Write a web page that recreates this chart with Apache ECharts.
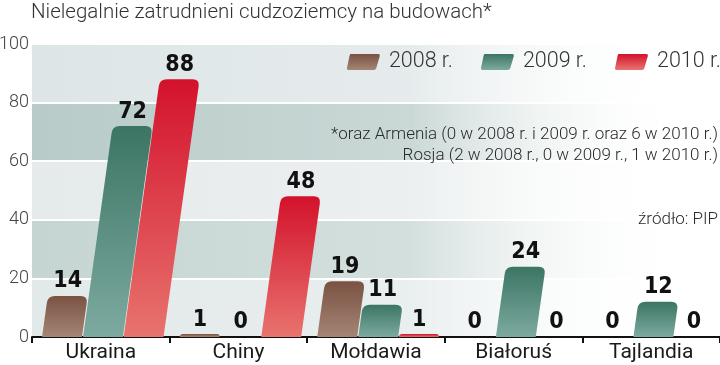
<!DOCTYPE html>
<html><head><meta charset="utf-8">
<script src="https://cdn.jsdelivr.net/npm/echarts@6/dist/echarts.min.js"></script>
<style>html,body{margin:0;padding:0;background:#fff}#c{width:720px;height:365px}</style>
</head><body><div id="c"></div>
<script>
const titleText = 'Nielegalnie zatrudnieni cudzoziemcy na budowach*';
const categories = ['Ukraina', 'Chiny', 'Mołdawia', 'Białoruś', 'Tajlandia'];
const seriesNames = ['2008 r.', '2009 r.', '2010 r.'];
const values2008 = [14, 1, 19, 0, 0];
const values2009 = [72, 0, 11, 24, 12];
const values2010 = [88, 48, 1, 0, 0];
const yTicks = [0, 20, 40, 60, 80, 100];
const noteLines = ['*oraz Armenia (0 w 2008 r. i 2009 r. oraz 6 w 2010 r.)', 'Rosja (2 w 2008 r., 0 w 2009 r., 1 w 2010 r.)'];
const sourceText = 'źródło: PIP';

const grad = (top, bottom) => ({type:'linear', x:0, y:0, x2:0, y2:1, colorStops:[{offset:0,color:top},{offset:1,color:bottom}]});
const colors = [grad('#7a5242', '#a58575'), grad('#3c7564', '#7daaa0'), grad('#d3122c', '#e8736e')];
const offsets = [0.073, 0.371, 0.666];
const hGrad = (c) => ({type:'linear', x:0, y:0, x2:1, y2:0, colorStops:[{offset:0,color:c},{offset:0.55,color:c.replace('1)', '0.75)')},{offset:0.95,color:'rgba(255,255,255,0)'}]});

const chart = echarts.init(document.getElementById('c'), null, {renderer:'canvas'});
const numFont = '"DejaVu Sans Condensed", "Liberation Sans Narrow", sans-serif';

function makeRender(si) {
  return function (params, api) {
    const ci = api.value(0), v = api.value(1);
    const base = api.coord([ci, 0]);
    const top = api.coord([ci, v]);
    const bw = api.size([1, 0])[0];
    const w = bw * 0.29;
    const x0 = base[0] - bw / 2 + bw * offsets[si];
    const yb = base[1], yt = top[1];
    const h = yb - yt;
    const k = 0.14;
    const s = k * h;
    const children = [];
    if (h > 0.5) {
      const r = Math.min(7, h);
      const d = [
        'M', x0, yb,
        'L', x0 + k * (h - r), yt + r,
        'Q', x0 + s, yt, x0 + s + r, yt,
        'L', x0 + s + w - r, yt,
        'Q', x0 + s + w, yt, x0 + w + k * (h - r), yt + r,
        'L', x0 + w, yb, 'Z'
      ].join(' ');
      children.push({type:'path', shape:{pathData:d}, style:{fill: colors[si]}});
    }
    children.push({type:'text', style:{text: String(v), x: x0 + s + w / 2, y: yt - 3,
      align:'center', verticalAlign:'bottom', fontSize: 23, fontWeight:'bold', fontFamily: numFont, fill:'#111'}});
    return {type:'group', children};
  };
}

const allVals = [values2008, values2009, values2010];
const series = allVals.map((vals, si) => ({
  name: seriesNames[si], type:'custom', renderItem: makeRender(si),
  itemStyle:{color: colors[si]},
  encode:{x:0, y:1},
  data: vals.map((v, i) => [i, v]), z: 3
}));

const iconPath = 'path://M4,0 L32,0 Q34,0 33.5,2 L30,14 Q29.5,16 27.5,16 L2,16 Q0,16 0.5,14 L3,2 Q3.5,0 4,0 Z';

chart.setOption({
  animation:false,
  title:{text: titleText, left: 26, top: -3, textStyle:{fontFamily:'Roboto', fontWeight: 300, fontSize: 20.5, color:'#333'}},
  legend:{data: seriesNames, right: -6, top: 46, icon: iconPath, itemWidth: 33, itemHeight: 16, itemGap: 28,
    textStyle:{fontFamily:'Roboto', fontWeight:300, fontSize: 21.5, color:'#333', padding:[0,0,0,4]}},
  grid:{left: 32, right: 0, top: 44, bottom: 28, outerBoundsMode:'none', containLabel:false},
  xAxis:{type:'category', data: categories, boundaryGap: true,
    axisLine:{lineStyle:{color:'#111', width: 2}},
    axisTick:{show:true, length: 6, lineStyle:{color:'#111', width: 2}},
    axisLabel:{fontFamily:'Roboto', fontSize: 21, color:'#1a1a1a', margin: 5}},
  yAxis:{type:'value', min: yTicks[0], max: yTicks[yTicks.length-1], interval: 20,
    axisLine:{show:false}, axisTick:{show:false},
    axisLabel:{fontFamily:'Roboto', fontWeight:300, fontSize: 18, color:'#444', margin: 3},
    splitLine:{show:true, lineStyle:{color:'#ffffff', width: 2}},
    splitArea:{show:true, areaStyle:{color:[hGrad('rgba(226,233,233,1)'), hGrad('rgba(197,213,210,1)'), hGrad('rgba(229,234,234,1)'), hGrad('rgba(184,203,200,1)'), hGrad('rgba(221,229,230,1)')]}}},
  graphic:[
    {type:'text', right: 2, top: 126, z: 100, style:{text: noteLines[0], fontFamily:'Roboto', fontWeight:300, fontSize: 17, fill:'#2a2a2a'}},
    {type:'text', right: 2, top: 147, z: 100, style:{text: noteLines[1], fontFamily:'Roboto', fontWeight:300, fontSize: 17, fill:'#2a2a2a'}},
    {type:'text', right: 2, top: 211, z: 100, style:{text: sourceText, fontFamily:'Roboto', fontWeight:300, fontSize: 17, fill:'#2a2a2a'}}
  ],
  series
});
</script></body></html>
